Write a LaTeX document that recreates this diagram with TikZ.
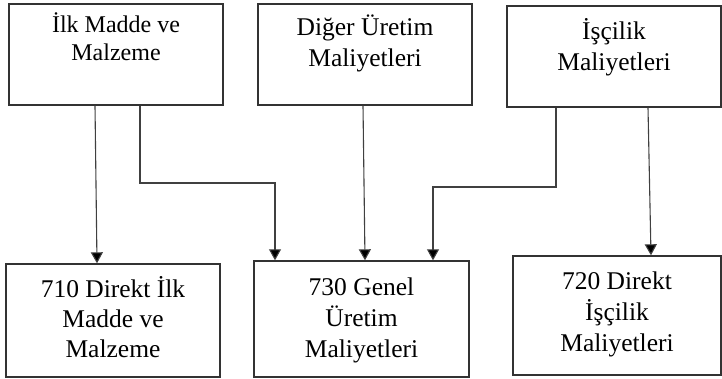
\documentclass[tikz,border=0pt]{standalone}
\usepackage{fontspec}
\setmainfont{Liberation Serif}
\usetikzlibrary{arrows.meta}
\begin{document}
\begin{tikzpicture}[x=1pt,y=-1pt,
  box/.style={draw=black!80, line width=1.4pt, inner sep=0pt, minimum width=214pt, minimum height=101pt},
  txt/.style={inner sep=0pt, anchor=north, align=center, font=\fontsize{25.5}{31}\selectfont,
              execute at begin node={\rule{0pt}{0.95em}}},
  arr/.style={draw=black!75, line width=1.1pt, -{Triangle[width=12pt,length=11pt,fill=black]}}]
\useasboundingbox (0,0) rectangle (722,378);
% source accounts (top row)
\node[box] (b1) at (116,54.5) {};
\node[box] (b2) at (365,54.5) {};
\node[box] (b3) at (614,56.5) {};
% cost accounts (bottom row)
\node[box, minimum width=214pt, minimum height=113pt] (b4) at (113,320.5) {};
\node[box, minimum width=215pt, minimum height=116pt] (b5) at (361.5,319) {};
\node[box, minimum width=208pt, minimum height=119pt] (b6) at (617,315.5) {};
% box texts
\node[txt, font=\fontsize{24}{28}\selectfont, yshift=-8.7pt] (t1) at (b1.north) {İlk Madde ve\\Malzeme};
\node[txt, yshift=-11pt] (t2) at (b2.north) {Diğer Üretim\\Maliyetleri};
\node[txt, yshift=-13pt] (t3) at (b3.north) {İşçilik\\Maliyetleri};
\node[txt, font=\fontsize{25.5}{30}\selectfont, yshift=-13pt] (t4) at (b4.north) {710 Direkt İlk\\Madde ve\\Malzeme};
\node[txt, yshift=-17pt] (t5) at (b5.north) {730 Genel\\Üretim\\Maliyetleri};
\node[txt, yshift=-16pt] (t6) at (b6.north) {720 Direkt\\İşçilik\\Maliyetleri};
% flows
\draw[arr] (b1.south -| 95,0) -- (b4.north -| 97,0);
\draw[arr] (b1.south -| 140,0) |- (275,183) -- (b5.north -| 275,0);
\draw[arr] (b2.south -| 363,0) -- (b5.north -| 365,0);
\draw[arr] (b3.south -| 556,0) |- (433,187) -- (b5.north -| 433,0);
\draw[arr] (b3.south -| 648,0) -- (b6.north -| 651,0);
\end{tikzpicture}
\end{document}
